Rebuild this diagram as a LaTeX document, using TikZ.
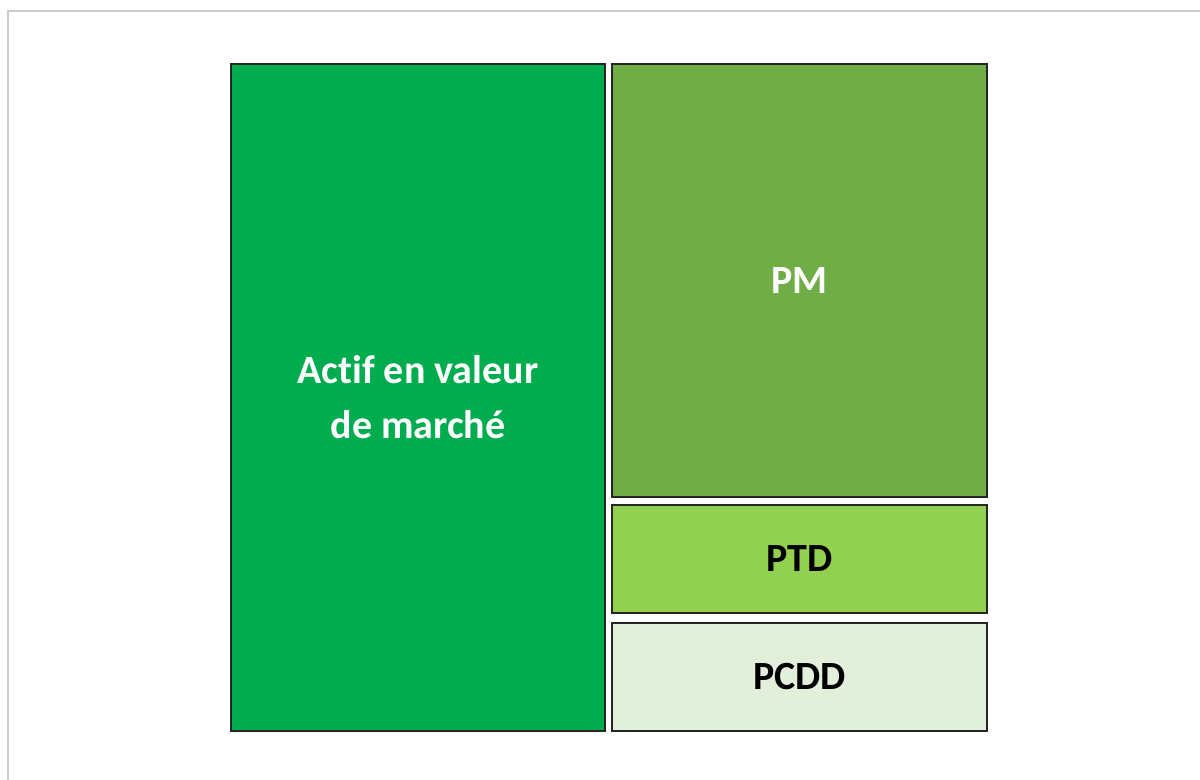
\documentclass[tikz,border=0pt]{standalone}
\usepackage{fontspec}
\setmainfont[Ligatures=CommonOff]{Carlito}
\definecolor{actifgreen}{HTML}{00AD4E}
\definecolor{pmgreen}{HTML}{70AD47}
\definecolor{ptdgreen}{HTML}{92D050}
\definecolor{pcddgreen}{HTML}{E2EFDA}
\definecolor{edgegray}{HTML}{262626}
\definecolor{framegray}{HTML}{CCCCCC}
\tikzset{
  block/.style={draw=edgegray, line width=1.5bp, inner sep=0pt, outer sep=0pt,
    font=\fontsize{40bp}{55bp}\selectfont\bfseries, align=center},
}
\begin{document}
\begin{tikzpicture}[x=1bp, y=-1bp]
  \useasboundingbox (0,0) rectangle (1200,780);
  \fill[white] (0,0) rectangle (1200,780);
  % outer frame, left and top edges
  \draw[framegray, line width=2bp] (8,780) -- (8,11) -- (1200,11);
  % treemap blocks
  \node[block, fill=actifgreen, text=white, minimum width=374bp, minimum height=667bp]
    (actif) at (418,397.5) {Actif en valeur\\de marché};
  \node[block, fill=pmgreen, text=white, minimum width=375bp, minimum height=433bp]
    (pm) at (799.5,280.5) {PM};
  \node[block, fill=ptdgreen, text=black, minimum width=375bp, minimum height=108bp]
    (ptd) at (799.5,559) {PTD};
  \node[block, fill=pcddgreen, text=black, minimum width=375bp, minimum height=108bp]
    (pcdd) at (799.5,677) {PCDD};
\end{tikzpicture}
\end{document}
